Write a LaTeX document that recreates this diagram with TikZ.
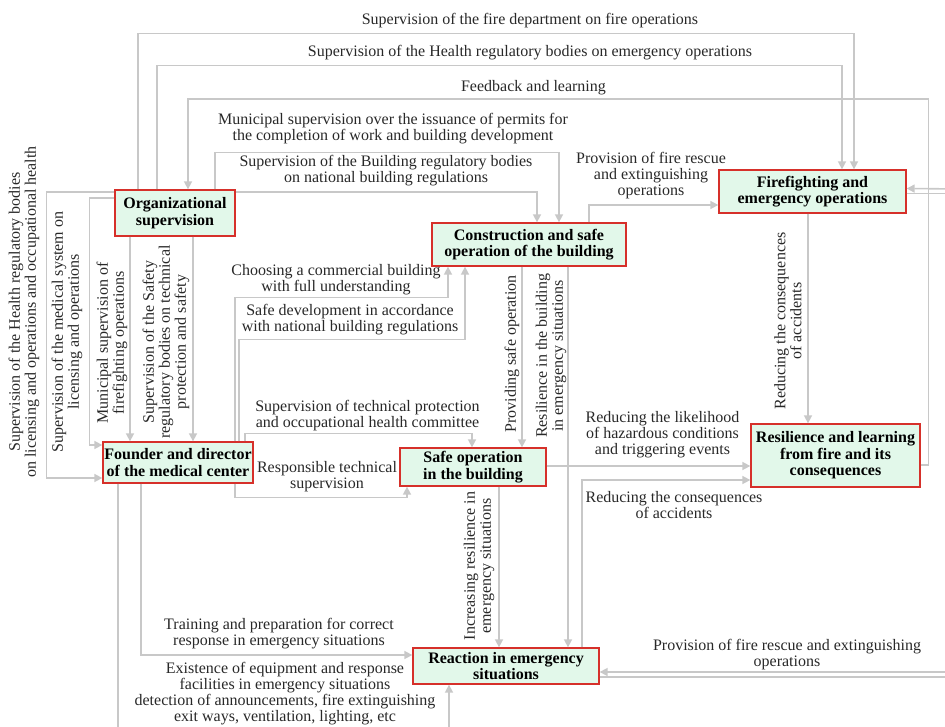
\documentclass[tikz,border=0pt]{standalone}
\usepackage{fontspec}
\setmainfont{Liberation Serif}
\usetikzlibrary{arrows.meta}
\definecolor{boxfill}{RGB}{226,248,234}
\definecolor{boxedge}{RGB}{214,48,42}
\definecolor{wire}{RGB}{200,200,200}
\definecolor{ink}{RGB}{40,40,40}

\begin{document}
\begin{tikzpicture}[
    x=1pt, y=-1pt,
    block/.style={draw=boxedge, line width=1.3pt, fill=boxfill, align=center, inner sep=1pt, font=\fontsize{16}{16.5}\selectfont\bfseries},
    note/.style={align=center, inner sep=0pt, text=ink, font=\fontsize{16}{16}\selectfont},
    vnote/.style={note, rotate=90},
    flow/.style={-{Triangle[length=8pt,width=8pt]}, draw=wire, line width=1.6pt},
    link/.style={draw=wire, line width=1.6pt}
]
\useasboundingbox (0,0) rectangle (945,727);
\clip (0,0) rectangle (945,727);

% Main blocks
\node[block, minimum width=120pt, minimum height=46pt] (org) at (175,213) {Organizational\\supervision};
\node[block, minimum width=150pt, minimum height=41pt] (founder) at (178,462.5) {Founder and director\\of the medical center};
\node[block, minimum width=194pt, minimum height=43pt] (cons) at (529,244.5) {Construction and safe\\operation of the building};
\node[block, minimum width=187pt, minimum height=43pt] (fire) at (812.5,191.5) {Firefighting and\\emergency operations};
\node[block, minimum width=169pt, minimum height=63pt] (resil) at (835.5,455.5) {Resilience and learning\\from fire and its\\consequences};
\node[block, minimum width=146pt, minimum height=38pt] (safe) at (473,467) {Safe operation\\in the building};
\node[block, minimum width=186pt, minimum height=36pt] (react) at (506,666) {Reaction in emergency\\situations};

% Free ends off the right edge
\coordinate (offfire) at (960,189);
\coordinate (offreact) at (960,672);

% Top supervision loops
\draw[flow] ([xshift=-37pt]org.north) -- ++(0,-156) -| ([xshift=41.5pt]fire.north);
\draw[flow] ([xshift=-18pt]org.north) -- ++(0,-124) -| ([xshift=29.5pt]fire.north);
\draw[flow] ([yshift=-9.5pt]resil.east) -- ++(8,0) -- ++(0,-366) -| ([xshift=13pt]org.north);
\draw[flow] ([xshift=40pt]org.north) -- ++(0,-37) -| ([xshift=30pt]cons.north);
\draw[flow] ([yshift=21pt]org.east) -| ([xshift=8pt]cons.north);

% Organizational supervision -> founder
\draw[flow] ([yshift=21pt]org.west) -- ++(-68,0) |- ([yshift=-15.5pt]founder.west);
\draw[flow] ([yshift=15pt]org.west) -- ++(-25,0) |- ([yshift=17.5pt]founder.west);
\draw[flow] ([xshift=-45pt]org.south) -- ([xshift=-48pt]founder.north);
\draw[flow] ([xshift=18pt]org.south) -- ([xshift=15pt]founder.north);

% Founder -> building
\draw[flow] ([xshift=57pt]founder.north) -- ++(0,-144) -| ([xshift=-81pt]cons.south);
\draw[flow] ([xshift=61pt]founder.north) -- ++(0,-102) -| ([xshift=-64pt]cons.south);
\draw[flow] ([xshift=67pt]founder.north) -- ++(0,-8) -| ([xshift=-1pt]safe.north);
\draw[flow] ([xshift=57pt]founder.south) -- ++(0,14) -| ([xshift=-66pt]safe.south);
\draw[flow] ([xshift=-37pt]founder.south) |- ([yshift=11pt]react.west);
\draw[flow] ([xshift=-60pt]founder.south) -- ++(0,260) -| ([xshift=-57pt]react.south);

% Building -> operations
\draw[flow] ([xshift=60pt]cons.north) |- ([yshift=-13.5pt]fire.west);
\draw[flow] ([xshift=-7pt]cons.south) -- ([xshift=49pt]safe.north);
\draw[flow] ([xshift=39pt]cons.south) -- ([xshift=62pt]react.north);
\draw[flow] ([yshift=1pt]safe.east) -- ([yshift=-10.5pt]resil.west);
\draw[flow] ([xshift=76pt]react.north) |- ([yshift=-24.5pt]resil.west);
\draw[flow] ([xshift=26pt]safe.south) -- ([xshift=-7pt]react.north);
\draw[flow] ([xshift=-4.5pt]fire.south) -- ([xshift=-27.5pt]resil.north);

% Right edge
\draw[flow] (offfire) -- ([yshift=3pt]fire.east);
\draw[link] ([yshift=-2pt]fire.east) -- ++(50,0);
\draw[flow] (offreact) -- ([yshift=-6pt]react.east);
\draw[link] ([yshift=-11pt]react.east) -- ++(360,0);

% Labels
\node[note] (lfire) at (530,21) {Supervision of the fire department on fire operations};
\node[note] (lhealth) at (530,53) {Supervision of the Health regulatory bodies on emergency operations};
\node[note] (lfeed) at (533.5,88) {Feedback and learning};
\node[note] (lpermit) at (393,129) {Municipal supervision over the issuance of permits for\\the completion of work and building development};
\node[note] (lbuild) at (386,171) {Supervision of the Building regulatory bodies\\on national building regulations};
\node[note] (lprov) at (651,176) {Provision of fire rescue\\and extinguishing\\operations};
\node[vnote] (llic) at (24,312) {Supervision of the Health regulatory bodies\\on licensing and operations and occupational health};
\node[vnote] (lmed) at (67,332) {Supervision of the medical system on\\licensing and operations};
\node[vnote] (lmun) at (112,343) {Municipal supervision of\\firefighting operations};
\node[vnote] (lsafety) at (166,342) {Supervision of the Safety\\regulatory bodies on technical\\protection and safety};
\node[note] (lchoose) at (336,280) {Choosing a commercial building\\with full understanding};
\node[note] (ldev) at (350,320) {Safe development in accordance\\with national building regulations};
\node[note] (ltech) at (367.5,416) {Supervision of technical protection\\and occupational health committee};
\node[note] (lresp) at (327,477) {Responsible technical\\supervision};
\node[vnote] (lprovide) at (512,354) {Providing safe operation};
\node[vnote] (lresb) at (551,356) {Resilience in the building\\in emergency situations};
\node[vnote] (lincr) at (479,566) {Increasing resilience in\\emergency situations};
\node[vnote] (lreduce) at (788,321) {Reducing the consequences\\of accidents};
\node[note] (llike) at (662.5,435) {Reducing the likelihood\\of hazardous conditions\\and triggering events};
\node[note] (lacc) at (674,505) {Reducing the consequences\\of accidents};
\node[note] (ltrain) at (279,634) {Training and preparation for correct\\response in emergency situations};
\node[note] (lequip) at (285,694) {Existence of equipment and response\\facilities in emergency situations\\detection of announcements, fire extinguishing\\exit ways, ventilation, lighting, etc};
\node[note] (lrescue) at (787,655) {Provision of fire rescue and extinguishing\\operations};

\end{tikzpicture}
\end{document}
